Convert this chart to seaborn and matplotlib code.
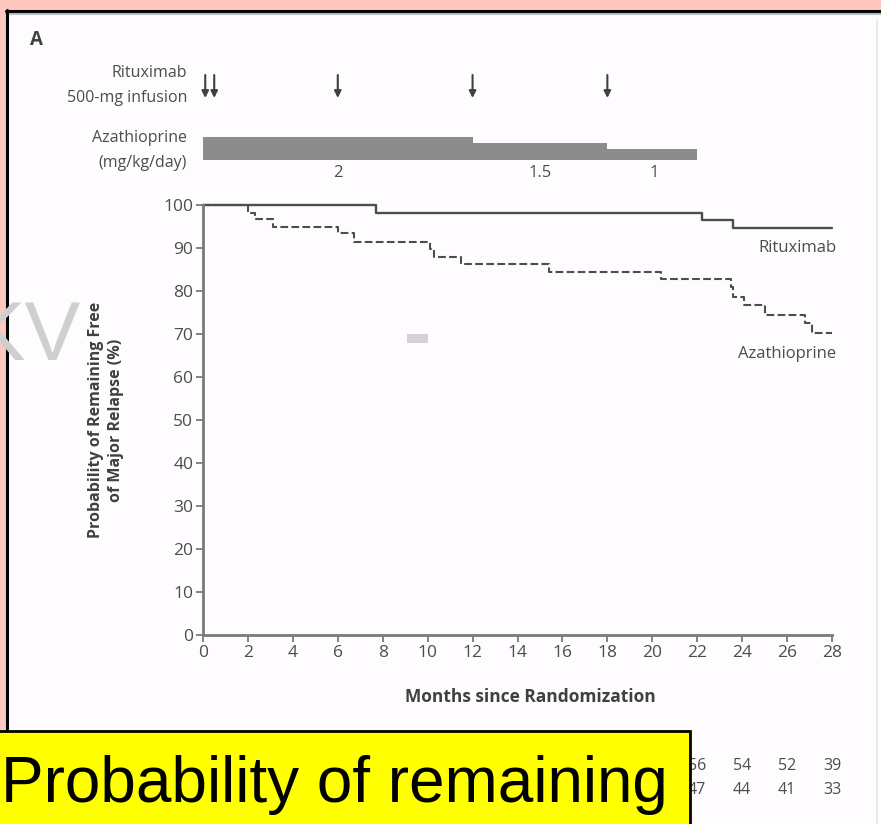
import numpy as np
import pandas as pd
import matplotlib.pyplot as plt
import seaborn as sns
from matplotlib.patches import Rectangle
from matplotlib.lines import Line2D

# --- Data ---
months_ticks = list(range(0, 29, 2))
y_ticks = list(range(0, 101, 10))

ritux_months = [0, 7.7, 22.2, 23.6, 28.0]
ritux_surv = [100, 98.2, 96.5, 94.7, 94.7]

aza_months = [0, 2.0, 2.3, 3.1, 6.0, 6.7, 10.1, 10.3, 11.5, 15.4, 20.4,
              23.5, 23.6, 24.1, 25.0, 26.8, 27.1, 28.0]
aza_surv = [100, 98.2, 96.7, 94.8, 93.4, 91.5, 89.8, 88.0, 86.3, 84.5, 82.8,
            81.0, 78.7, 76.7, 74.4, 72.5, 70.3, 70.3]

infusion_months = [0.1, 0.5, 6, 12, 18]

aza_start = [0, 12, 18]
aza_length = [12, 6, 4]
aza_dose = [2, 1.5, 1]
aza_dose_labels = ["2", "1.5", "1"]
aza_label_months = [6, 15, 20.1]

risk_months = [22, 24, 26, 28]
risk_ritux = [56, 54, 52, 39]
risk_aza = [47, 44, 41, 33]

# --- Layout helpers (reference is 881 x 824 px) ---
W, H = 881, 824
def fx(x):
    return x / W
def fy(y):
    return 1 - y / H

PINK = "#fec8c0"
PANEL = "#fefcfe"
INK = "#4d4d4d"
DARK = "#404040"

sns.set_theme(style="white")
plt.rcParams['font.family'] = ['Open Sans', 'DejaVu Sans']

fig = plt.figure(figsize=(W / 100, H / 100), dpi=100, facecolor=PINK)

# white panel with black left/top border
fig.patches.append(Rectangle((fx(7), 0), 1, fy(11), transform=fig.transFigure,
                             facecolor=PANEL, edgecolor="none", zorder=-2))
fig.lines.append(Line2D([fx(6), 1], [fy(11), fy(11)], transform=fig.transFigure,
                        color="black", lw=2.2, zorder=-1))
fig.lines.append(Line2D([fx(6), 1], [fy(14), fy(14)], transform=fig.transFigure,
                        color="#bbbbbb", lw=1.5, zorder=-1))
fig.lines.append(Line2D([fx(6.5), fx(6.5)], [fy(731), fy(10)], transform=fig.transFigure,
                        color="black", lw=2.2, zorder=-1))
fig.lines.append(Line2D([fx(877), fx(877)], [0, fy(20)], transform=fig.transFigure,
                        color="#ebebeb", lw=1.5, zorder=-1))

# --- Main survival axes ---
ax = fig.add_axes([fx(203), fy(635), (832 - 203) / W, (635 - 205) / H])
ax.set_facecolor("none")

df = pd.concat([
    pd.DataFrame({"month": ritux_months, "surv": ritux_surv, "group": "Rituximab"}),
    pd.DataFrame({"month": aza_months, "surv": aza_surv, "group": "Azathioprine"}),
])

sns.lineplot(data=df[df.group == "Rituximab"], x="month", y="surv", ax=ax,
             estimator=None, sort=False, drawstyle="steps-post",
             color=INK, lw=1.7, clip_on=False)
sns.lineplot(data=df[df.group == "Azathioprine"], x="month", y="surv", ax=ax,
             estimator=None, sort=False, drawstyle="steps-post",
             color=INK, lw=1.5, dashes=(3, 2.5), linestyle="--", clip_on=False)

ax.set_xlim(0, 28)
ax.set_ylim(0, 100)
ax.set_xticks(months_ticks)
ax.set_yticks(y_ticks)
ax.set_xlabel("")
ax.set_ylabel("")
sns.despine(ax=ax)
for side in ["left", "bottom"]:
    ax.spines[side].set_color("#7a7a7a")
    ax.spines[side].set_linewidth(2)
ax.tick_params(axis="both", direction="out", length=5, width=1.3, color="#7a7a7a",
               labelsize=12.5, labelcolor=INK, pad=2, left=True, bottom=True)

ax.text(28.2, 94.7 - 4.6, "Rituximab", ha="right", va="center", fontsize=12, color=INK)
ax.text(28.2, 70.3 - 5.0, "Azathioprine", ha="right", va="center", fontsize=12, color=INK)

# number at risk (partly hidden by the caption box)
for m, r, a in zip(risk_months, risk_ritux, risk_aza):
    ax.annotate(str(r), xy=(m, fy(766)), xycoords=("data", "figure fraction"),
                ha="center", va="center", fontsize=11.5, color=INK, annotation_clip=False)
    ax.annotate(str(a), xy=(m, fy(790)), xycoords=("data", "figure fraction"),
                ha="center", va="center", fontsize=11.5, color=INK, annotation_clip=False)

# --- Rituximab infusion arrows ---
ax_inf = fig.add_axes([fx(203), fy(98), (832 - 203) / W, 23 / H])
ax_inf.set_xlim(0, 28)
ax_inf.set_ylim(0, 1)
ax_inf.axis("off")
for m in infusion_months:
    ax_inf.annotate("", xy=(m, 0), xytext=(m, 1),
                    arrowprops=dict(arrowstyle="-|>", color=DARK, lw=1.5,
                                    mutation_scale=10, shrinkA=0, shrinkB=0))

# --- Azathioprine dose bar ---
ax_aza = fig.add_axes([fx(203), fy(160), (832 - 203) / W, 23 / H])
ax_aza.set_xlim(0, 28)
ax_aza.set_ylim(0, 2)
ax_aza.axis("off")
ax_aza.bar(aza_start, aza_dose, width=aza_length, align="edge", color="#8c8c8c",
           edgecolor="none")
for m, lab in zip(aza_label_months, aza_dose_labels):
    ax_aza.annotate(lab, xy=(m, fy(173)), xycoords=("data", "figure fraction"),
                    ha="center", va="center", fontsize=12, color=INK)

# --- Figure texts ---
fig.text(fx(30), fy(40), "A", fontsize=13.5, fontweight="bold", color=DARK, va="center")
fig.text(fx(187), fy(73), "Rituximab", ha="right", va="center", fontsize=11.5, color=INK)
fig.text(fx(187), fy(98), "500-mg infusion", ha="right", va="center", fontsize=11.5, color=INK)
fig.text(fx(187), fy(138), "Azathioprine", ha="right", va="center", fontsize=11.5, color=INK)
fig.text(fx(187), fy(163), "(mg/kg/day)", ha="right", va="center", fontsize=11.5, color=INK)
fig.text(fx(106), fy(420), "Probability of Remaining Free\nof Major Relapse (%)",
         rotation=90, ha="center", va="center", fontsize=11.5, fontweight="bold",
         color=DARK, linespacing=1.25)
fig.text(fx(530), fy(697), "Months since Randomization", ha="center", va="center",
         fontsize=12.5, fontweight="bold", color=DARK)

# watermark pieces
fig.text(fx(80), fy(360), "KV", ha="right", va="baseline", fontsize=60,
         color="#cfcfcf", family="Liberation Sans", zorder=5)
fig.patches.append(Rectangle((fx(407), fy(343)), 21 / W, 9 / H, transform=fig.transFigure,
                             facecolor="#d4d0d4", edgecolor="none", zorder=5))

# yellow caption box
fig.patches.append(Rectangle((fx(-5), fy(830)), 695 / W, 99 / H, transform=fig.transFigure,
                             facecolor="#ffff00", edgecolor="black", lw=2, zorder=10))
fig.text(fx(1), fy(802), "Probability of remaining", ha="left", va="baseline",
         fontsize=46, color="black", family="Liberation Sans", zorder=11)

plt.savefig("out.png", dpi=100, facecolor=PINK)
